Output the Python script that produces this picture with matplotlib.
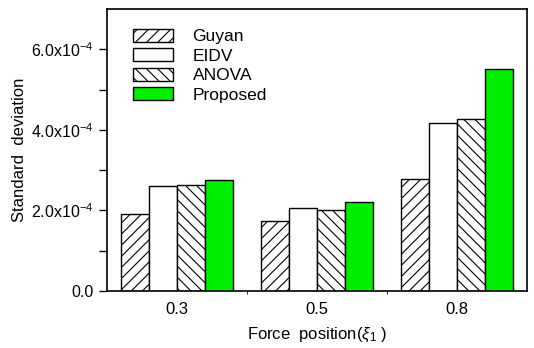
import numpy as np
import matplotlib.pyplot as plt
from matplotlib.ticker import FixedLocator, FuncFormatter

plt.rcParams['font.family'] = ['Liberation Sans', 'DejaVu Sans']
plt.rcParams['mathtext.fontset'] = 'custom'
plt.rcParams['mathtext.rm'] = 'Liberation Sans'
plt.rcParams['mathtext.it'] = 'Liberation Sans:italic'
plt.rcParams['mathtext.default'] = 'regular'
plt.rcParams['hatch.linewidth'] = 0.8

# Data
positions = ['0.3', '0.5', '0.8']
methods = ['Guyan', 'EIDV', 'ANOVA', 'Proposed']
guyan = [1.92e-4, 1.74e-4, 2.79e-4]
eidv = [2.60e-4, 2.07e-4, 4.18e-4]
anova = [2.63e-4, 2.02e-4, 4.26e-4]
proposed = [2.75e-4, 2.20e-4, 5.50e-4]

series = [guyan, eidv, anova, proposed]
colors = ['white', 'white', 'white', '#00ee00']
hatches = ['///', '', '\\\\\\', '']

fig = plt.figure(figsize=(5.34, 3.48), dpi=100)
ax = fig.add_axes([0.2004, 0.1638, 0.7865, 0.8102])

x = np.arange(len(positions))
w = 0.2
for i, vals in enumerate(series):
    ax.bar(x + (i - 1.5) * w, vals, w, color=colors[i], hatch=hatches[i],
           edgecolor='black', linewidth=1.0, label=methods[i])

ax.set_xlim(-0.5, 2.5)
ax.set_ylim(0, 7e-4)

ax.set_xticks(x)
ax.set_xticklabels(positions)
ax.xaxis.set_minor_locator(FixedLocator([0.5, 1.5]))
ax.tick_params(axis='x', which='major', length=0, pad=8, labelsize=12)
ax.tick_params(axis='x', which='minor', length=2, direction='out')

def fmt(v, pos):
    if v == 0:
        return '0.0'
    return r'%.1fx10$^{-4}$' % (v / 1e-4)

ax.set_yticks([0, 2e-4, 4e-4, 6e-4])
ax.yaxis.set_major_formatter(FuncFormatter(fmt))
ax.yaxis.set_minor_locator(FixedLocator([1e-4, 3e-4, 5e-4]))
ax.tick_params(axis='y', which='both', length=6, width=1, direction='out', labelsize=11.5)

for s in ax.spines.values():
    s.set_linewidth(1.2)

ax.set_ylabel('Standard  deviation', fontsize=12, labelpad=3)
ax.set_xlabel(r'Force  position($\mathit{\xi}_1$ )', fontsize=12, labelpad=6)

ax.legend(loc='upper left', bbox_to_anchor=(0.024, 0.986), frameon=False,
          fontsize=12.5, handlelength=2.3, handleheight=0.8,
          labelspacing=0.22, handletextpad=1.15)

fig.savefig('out.png', dpi=100)
